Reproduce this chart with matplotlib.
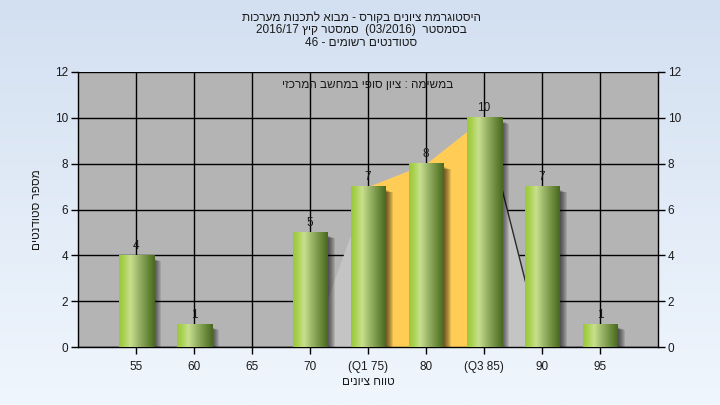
#!/usr/bin/env python3
"""
Grade histogram for a course (Hebrew labels), with the Q1-Q3 band shaded.
"""
import re
import numpy as np
import matplotlib
matplotlib.use('Agg')
import matplotlib.pyplot as plt
from matplotlib.colors import LinearSegmentedColormap
from matplotlib.patches import Rectangle

plt.rcParams.update({
    'font.family': ['Liberation Sans', 'DejaVu Sans'],
    'font.size': 8.5,
    'axes.unicode_minus': False,
})

# data
grades = [55, 60, 65, 70, 75, 80, 85, 90, 95]
tick_labels = ['55', '60', '65', '70', '(Q1 75)', '80', '(Q3 85)', '90', '95']
counts = [4, 1, 0, 5, 7, 8, 10, 7, 1]

# shaded distribution outline behind the bars
area_grades = [70, 75, 80, 85, 90]
area_counts = [0, 7, 8, 10, 0]
q1, q3 = 75, 85

title_lines = [
    'היסטוגרמת ציונים בקורס - מבוא לתכנות מערכות',
    'בסמסטר  (03/2016)  סמסטר קיץ 2016/17',
    'סטודנטים רשומים - 46',
]
note_text = 'במשימה : ציון סופי במחשב המרכזי'
xlabel_text = 'טווח ציונים'
ylabel_text = 'מספר סטודנטים'

BG_TOP = '#D3E0F1'
BG_BOTTOM = '#F0F6FD'
PLOT_BG = '#B4B4B4'
AREA_GRAY = '#C4C4C4'
AREA_YELLOW = '#FFCC55'
TEXT_C = '#1A1A1A'

BAR_CMAP = LinearSegmentedColormap.from_list('bar', [
    (0.00, '#98C83A'),
    (0.12, '#A8D04C'),
    (0.32, '#C8E08E'),
    (0.55, '#9AB467'),
    (0.80, '#6A8A3A'),
    (1.00, '#4A6622'),
])


def rtl(s):
    """Crude visual ordering for a right-to-left line."""
    s = s[::-1]
    s = re.sub(r'[0-9A-Za-z/.]+', lambda m: m.group(0)[::-1], s)
    return s.translate(str.maketrans('()', ')('))


def main():
    fig = plt.figure(figsize=(7.2, 4.05), dpi=100)

    # light blue gradient background
    bg = fig.add_axes([0, 0, 1, 1], zorder=-10)
    grad = np.linspace(0, 1, 256).reshape(-1, 1)
    bg.imshow(grad, aspect='auto', extent=[0, 1, 0, 1],
              cmap=LinearSegmentedColormap.from_list('bg', [BG_TOP, BG_BOTTOM]))
    bg.axis('off')

    ax = fig.add_axes([78 / 720, 1 - 347 / 405, 580 / 720, 275 / 405])
    ax.set_facecolor(PLOT_BG)
    ax.set_axisbelow(True)

    # shaded area + Q1..Q3 band
    ax.fill_between(area_grades, area_counts, 0, color=AREA_GRAY, lw=0, zorder=1)
    ax_g = np.array(area_grades, dtype=float)
    ax_c = np.array(area_counts, dtype=float)
    band = (ax_g >= q1) & (ax_g <= q3)
    ax.fill_between(ax_g[band], ax_c[band], 0, color=AREA_YELLOW, lw=0, zorder=1.1)
    ax.plot(area_grades[-2:], area_counts[-2:], color='#2A2A2A', lw=1.0, zorder=1.2)

    px_x = 50 / 580   # grade units per pixel
    px_y = 12 / 275   # count units per pixel
    width = 35 * px_x
    for g, c in zip(grades, counts):
        if c <= 0:
            continue
        x0 = g - width / 2
        # soft shadow on the right
        for k in range(1, 8):
            ax.add_patch(Rectangle((x0 + width, 0), k * px_x, c - 3 * px_y - k * 0.4 * px_y,
                                   facecolor='black', edgecolor='none',
                                   alpha=0.1, zorder=2))
        ax.imshow(np.linspace(0, 1, 256).reshape(1, -1), cmap=BAR_CMAP,
                  extent=[x0, x0 + width, 0, c], aspect='auto', zorder=3,
                  interpolation='bilinear')
        ax.annotate(str(c), (g, c), xytext=(0, 2.5), textcoords='offset points',
                    ha='center', va='bottom', color=TEXT_C, fontsize=8.5, zorder=4)

    ax.set_xlim(50, 100)
    ax.set_ylim(0, 12)
    ax.set_xticks(grades)
    ax.set_xticklabels(tick_labels)
    ax.set_yticks(np.arange(0, 13, 2))
    ax.grid(True, color='black', lw=1.0)
    ax.tick_params(axis='both', direction='out', length=5, width=1, color='black',
                   labelcolor=TEXT_C, labelsize=8.5)
    ax.tick_params(axis='y', left=True, right=True, labelleft=True, labelright=True, pad=2)
    ax.tick_params(axis='x', pad=5)
    for side in ['left', 'right', 'bottom']:
        ax.spines[side].set_color('black')
        ax.spines[side].set_linewidth(1.0)
    ax.spines['top'].set_visible(False)

    ax.set_xlabel(rtl(xlabel_text), color=TEXT_C, fontsize=8.5, labelpad=2)
    ax.set_ylabel(rtl(ylabel_text), color=TEXT_C, fontsize=8.5, labelpad=9)

    ax.text(0.5, 1 - 13 / 275, rtl(note_text), transform=ax.transAxes,
            ha='center', va='center', color=TEXT_C, fontsize=8.5, zorder=5)

    for i, line in enumerate(title_lines):
        fig.text(361 / 720, 1 - (18 + 12.5 * i) / 405, rtl(line),
                 ha='center', va='center', color=TEXT_C, fontsize=8.5)

    fig.savefig('out.png', dpi=100)
    plt.close(fig)


if __name__ == '__main__':
    main()
